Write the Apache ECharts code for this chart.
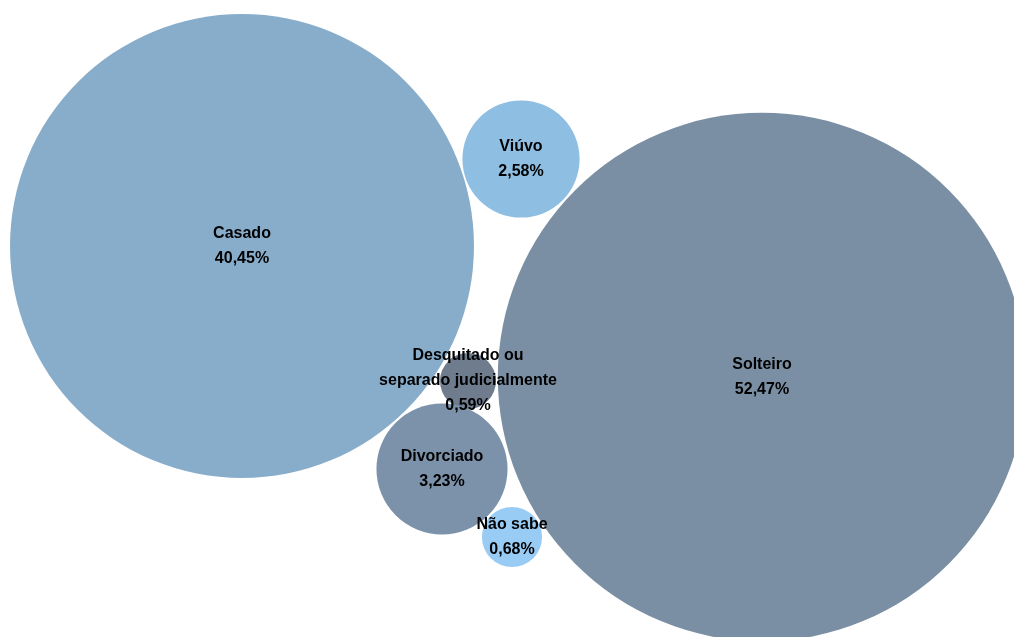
<!DOCTYPE html>
<html>
<head>
<meta charset="utf-8">
<script src="https://cdn.jsdelivr.net/npm/echarts@6/dist/echarts.min.js"></script>
<style>
html,body{margin:0;padding:0;background:#fff;}
#chart{width:1014px;height:637px;}
</style>
</head>
<body>
<div id="chart"></div>
<script>
// Categories and their shares (%)
var categories = ['Casado', 'Solteiro', 'Viúvo', 'Desquitado ou\nseparado judicialmente', 'Divorciado', 'Não sabe'];
var shares = [40.45, 52.47, 2.58, 0.59, 3.23, 0.68];
// Packed bubble centres (layout coordinates on hidden axes)
var bubbleX = [242, 762, 521, 468, 442, 512];
var bubbleY = [246, 377, 159, 381, 469, 537];
var colors = ['#88adcb', '#7a8fa3', '#8fbee3', '#6e7c8e', '#7c92aa', '#99ccf5'];

var chart = echarts.init(document.getElementById('chart'), null, {renderer: 'canvas'});
var scale = 72.95; // diameter per sqrt(percent)
var data = categories.map(function (c, i) {
  return {
    name: c,
    value: [bubbleX[i], bubbleY[i], shares[i]],
    itemStyle: {color: colors[i], opacity: 1}
  };
});
chart.setOption({
  animation: false,
  backgroundColor: '#ffffff',
  grid: {left: 0, right: 0, top: 0, bottom: 0},
  xAxis: {type: 'value', min: 0, max: 1014, show: false},
  yAxis: {type: 'value', min: 0, max: 637, inverse: true, show: false},
  series: [{
    type: 'scatter',
    symbol: 'circle',
    data: data,
    itemStyle: {opacity: 1},
    symbolSize: function (v) { return scale * Math.sqrt(v[2]); },
    clip: true,
    label: {
      show: true,
      position: 'inside',
      color: '#000',
      fontFamily: 'Liberation Sans, Arial, sans-serif',
      fontWeight: 'bold',
      fontSize: 16,
      lineHeight: 25,
      align: 'center',
      formatter: function (p) {
        return p.name + '\n' + p.value[2].toFixed(2).replace('.', ',') + '%';
      }
    },
    emphasis: {disabled: true}
  }]
});
</script>
</body>
</html>
